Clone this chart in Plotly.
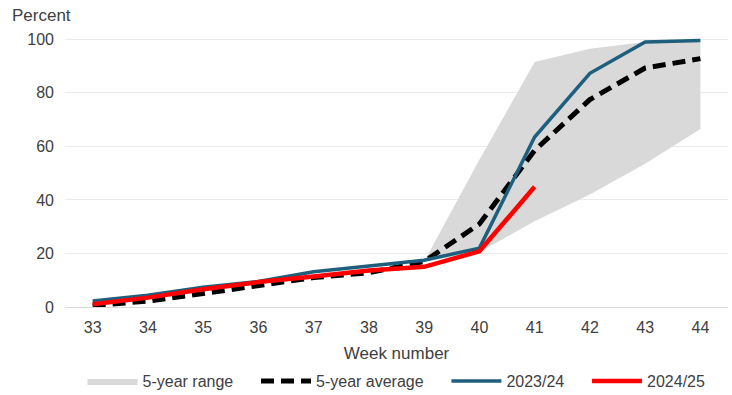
import plotly.graph_objects as go

weeks = [33, 34, 35, 36, 37, 38, 39, 40, 41, 42, 43, 44]
range_weeks = [39, 40, 41, 42, 43, 44]
range_low = [17, 20.5, 32, 42, 53.5, 66.5]
range_high = [17, 55, 91.5, 96.5, 99, 100]
avg5 = [0.5, 2.2, 5, 7.8, 11, 12.8, 17, 31, 58.5, 77.5, 89.3, 92.8]
s2324 = [2.2, 4.4, 7.4, 9.5, 13.2, 15.3, 17.5, 22, 63.5, 87.3, 99, 99.6]
s2425 = [1, 3.5, 6.6, 9.3, 11.4, 13.6, 15, 20.8, 44.9]
yticks = [0, 20, 40, 60, 80, 100]

TXT = "#404040"
FONT = "Liberation Sans, Arial, sans-serif"
PAD = "\u00a0" * 4

fig = go.Figure()
fig.add_trace(go.Scatter(x=range_weeks, y=range_low, mode="lines",
                         line=dict(width=0, color="#d9d9d9"),
                         showlegend=False, hoverinfo="skip"))
fig.add_trace(go.Scatter(x=range_weeks, y=range_high, mode="lines",
                         line=dict(width=0, color="#d9d9d9"),
                         fill="tonexty", fillcolor="#d9d9d9",
                         name="5-year range" + PAD))
fig.add_trace(go.Scatter(x=weeks, y=avg5, mode="lines",
                         line=dict(color="black", width=5, dash="13px,7px"),
                         name="5-year average" + PAD))
fig.add_trace(go.Scatter(x=weeks, y=s2324, mode="lines",
                         line=dict(color="#1e5f7d", width=3.5),
                         name="2023/24" + PAD))
fig.add_trace(go.Scatter(x=weeks[:len(s2425)], y=s2425, mode="lines",
                         line=dict(color="#ff0000", width=4.5),
                         name="2024/25"))

fig.update_layout(
    width=732, height=395,
    margin=dict(l=65, r=4, t=34, b=88, autoexpand=False),
    paper_bgcolor="white", plot_bgcolor="white",
    font=dict(family=FONT, size=16, color=TXT),
    showlegend=True,
    legend=dict(orientation="h", x=0.5, xanchor="center",
                yref="container", y=(395 - 381) / 395, yanchor="middle",
                font=dict(size=16, color=TXT), itemwidth=50, traceorder="normal"),
    annotations=[dict(text="Percent", xref="paper", yref="paper",
                      x=(10 - 65) / 663, y=(307 - 15) / 273,
                      xanchor="left", yanchor="middle", showarrow=False,
                      font=dict(size=17, color=TXT))],
)
fig.update_xaxes(range=[32.5, 44.5], tickmode="array", tickvals=weeks,
                 ticktext=[str(w) for w in weeks], showgrid=False,
                 showline=True, linecolor="#d9d9d9", linewidth=1, ticks="",
                 zeroline=False, ticklabelstandoff=6,
                 title=dict(text="Week number", font=dict(size=17, color=TXT), standoff=11))
fig.update_yaxes(range=[0, 102], tickmode="array", tickvals=yticks,
                 showgrid=True, gridcolor="#ebebeb", gridwidth=1,
                 zeroline=False, ticks="", ticklabelstandoff=10)

fig.write_html("out.html",
               config={"displayModeBar": False},
               post_script="document.body.style.margin='0';document.body.style.overflow='hidden';")
